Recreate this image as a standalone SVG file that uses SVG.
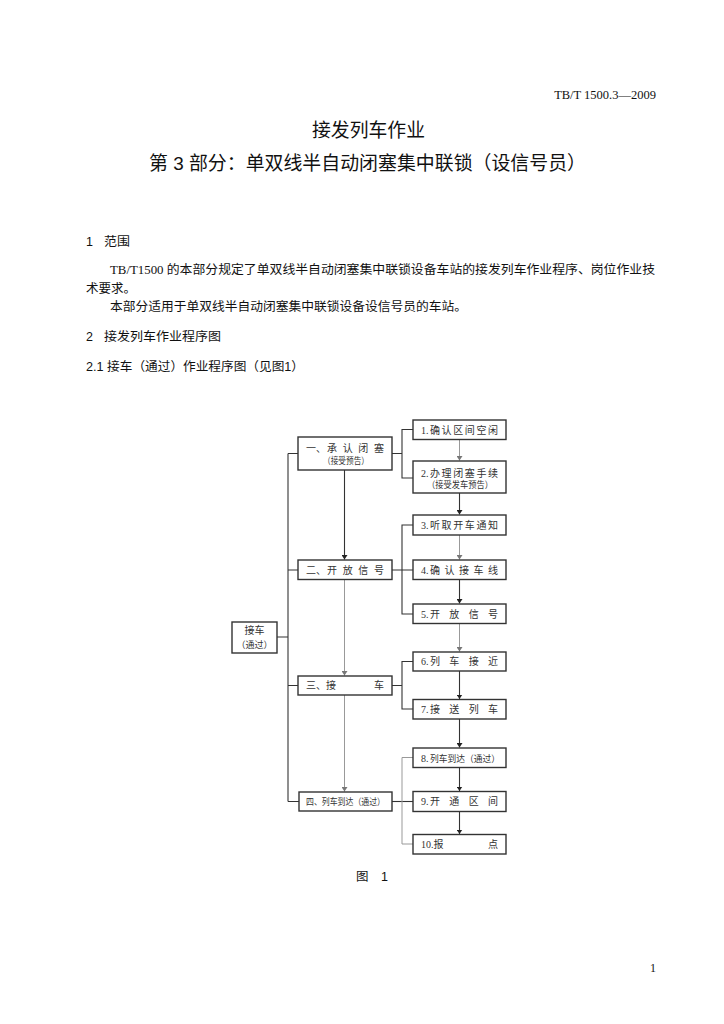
<svg xmlns="http://www.w3.org/2000/svg" width="724" height="1024" viewBox="0 0 724 1024">
<defs>
<marker id="ah" viewBox="0 0 6 8" refX="6" refY="4" markerWidth="4.5" markerHeight="6" orient="auto" markerUnits="userSpaceOnUse">
<path d="M0,0 L6,4 L0,8 Z" fill="#222"/>
</marker>
<marker id="ahg" viewBox="0 0 6 8" refX="6" refY="4" markerWidth="4.5" markerHeight="6" orient="auto" markerUnits="userSpaceOnUse">
<path d="M0,0 L6,4 L0,8 Z" fill="#777"/>
</marker>
</defs>
<style>
.bg{fill:#fff}
.serif{font-family:"Liberation Serif","Noto Sans CJK SC",serif;fill:#111}
.body{font-family:"Liberation Serif","Noto Sans CJK SC",serif;font-size:12.5px;fill:#111}
.head{font-family:"Liberation Sans","Noto Sans CJK SC",sans-serif;font-size:12.5px;fill:#111}
.title{font-family:"Liberation Sans","Noto Sans CJK SC",sans-serif;font-size:19px;fill:#111}
.box{fill:#fff;stroke:#333;stroke-width:1.4}
.bt{font-family:"Liberation Serif","Noto Sans CJK SC",serif;font-size:10px;fill:#333}
.bs{font-family:"Liberation Serif","Noto Sans CJK SC",serif;font-size:9px;fill:#333}
.c{fill:none;stroke:#333;stroke-width:1.1}
.g{fill:none;stroke:#999;stroke-width:1}
</style>
<rect class="bg" x="0" y="0" width="724" height="1024"/>

<g id="page-text">
<text class="serif" x="656" y="99" font-size="12.5" text-anchor="end">TB/T 1500.3—2009</text>
<text class="title" x="312" y="137" textLength="113" lengthAdjust="spacingAndGlyphs">接发列车作业</text>
<text class="title" x="149" y="170" textLength="437" lengthAdjust="spacingAndGlyphs">第 3 部分：单双线半自动闭塞集中联锁（设信号员）</text>
<text class="head" x="86" y="246">1</text>
<text class="head" x="104" y="246" textLength="26" lengthAdjust="spacingAndGlyphs">范围</text>
<text class="body" x="110" y="274" textLength="545" lengthAdjust="spacingAndGlyphs">TB/T1500 的本部分规定了单双线半自动闭塞集中联锁设备车站的接发列车作业程序、岗位作业技</text>
<text class="body" x="86" y="293" textLength="50" lengthAdjust="spacingAndGlyphs">术要求。</text>
<text class="body" x="110" y="311" textLength="357" lengthAdjust="spacingAndGlyphs">本部分适用于单双线半自动闭塞集中联锁设备设信号员的车站。</text>
<text class="head" x="86" y="341">2</text>
<text class="head" x="104" y="341" textLength="117" lengthAdjust="spacingAndGlyphs">接发列车作业程序图</text>
<text class="head" x="86" y="371" textLength="218" lengthAdjust="spacingAndGlyphs">2.1 接车（通过）作业程序图（见图1）</text>
<text class="head" x="356" y="881" font-size="11.5">图</text>
<text class="head" x="381" y="881" font-size="11.5">1</text>
<text class="serif" x="656" y="972" font-size="12" text-anchor="end">1</text>
</g>

<g id="connectors">
<path class="c" d="M288,453.5 V801.5"/>
<path class="c" d="M288,453.5 H298 M288,570 H298 M288,685.5 H298 M288,801.5 H299 M277,637 H288"/>
<path class="c" d="M344.5,470 V559.5" marker-end="url(#ah)"/>
<path class="g" d="M344.5,579.5 V675.5" marker-end="url(#ahg)"/>
<path class="g" d="M344.5,695 V791.5" marker-end="url(#ahg)"/>
<path class="c" d="M392,453.5 H402 M413,429.5 H402 V478 H413"/>
<path class="c" d="M392,570 H413 M413,525 H402 V614 H413"/>
<path class="c" d="M392,685.5 H402 M413,661.5 H402 V709 H413"/>
<path class="c" d="M392,801.5 H413"/>
<path class="g" d="M413,757.5 H402 V844 H413"/>
<path class="g" d="M459.5,439.5 V460.5" marker-end="url(#ahg)"/>
<path class="c" d="M459.5,493 V514.5" marker-end="url(#ah)"/>
<path class="g" d="M459.5,535 V559.5" marker-end="url(#ahg)"/>
<path class="c" d="M459.5,579.5 V603.5" marker-end="url(#ah)"/>
<path class="g" d="M459.5,623.5 V651.5" marker-end="url(#ahg)"/>
<path class="c" d="M459.5,671 V699" marker-end="url(#ah)"/>
<path class="c" d="M459.5,719 V747.5" marker-end="url(#ah)"/>
<path class="c" d="M459.5,767.5 V791" marker-end="url(#ah)"/>
<path class="c" d="M459.5,811.5 V834" marker-end="url(#ah)"/>
</g>

<g id="n-root">
<rect class="box" x="232" y="622" width="45" height="31"/>
<text class="bt" x="254.5" y="634" text-anchor="middle">接车</text>
<text class="bs" x="254.5" y="648" text-anchor="middle">（通过）</text>
</g>

<g id="n-1">
<rect class="box" x="298" y="437" width="94" height="33"/>
<text class="bt" x="306" y="452">一、</text>
<text class="bt" x="327" y="452" textLength="57" lengthAdjust="spacing">承认闭塞</text>
<text class="bs" x="323" y="464" textLength="46" lengthAdjust="spacingAndGlyphs">（接受预告）</text>
</g>
<g id="n-2">
<rect class="box" x="298" y="560" width="94" height="19.5"/>
<text class="bt" x="306" y="573.5">二、</text>
<text class="bt" x="327" y="573.5" textLength="57" lengthAdjust="spacing">开放信号</text>
</g>
<g id="n-3">
<rect class="box" x="298" y="676" width="94" height="19"/>
<text class="bt" x="306" y="689">三、接</text>
<text class="bt" x="384" y="689" text-anchor="end">车</text>
</g>
<g id="n-4">
<rect class="box" x="299" y="792" width="93" height="19"/>
<text class="bs" x="306" y="805" textLength="79" lengthAdjust="spacingAndGlyphs">四、列车到达（通过）</text>
</g>

<g id="s-1">
<rect class="box" x="413" y="420" width="93" height="19.5"/>
<text class="bt" x="421" y="433.5">1.</text>
<text class="bt" x="430" y="433.5" textLength="68" lengthAdjust="spacing">确认区间空闲</text>
</g>
<g id="s-2">
<rect class="box" x="413" y="461" width="93" height="32"/>
<text class="bt" x="421" y="477">2.</text>
<text class="bt" x="430" y="477" textLength="68" lengthAdjust="spacing">办理闭塞手续</text>
<text class="bs" x="427" y="488" textLength="66" lengthAdjust="spacingAndGlyphs">（接受发车预告）</text>
</g>
<g id="s-3">
<rect class="box" x="413" y="515" width="93" height="20"/>
<text class="bt" x="421" y="528.5">3.</text>
<text class="bt" x="430" y="528.5" textLength="68" lengthAdjust="spacing">听取开车通知</text>
</g>
<g id="s-4">
<rect class="box" x="413" y="560" width="93" height="19.5"/>
<text class="bt" x="421" y="573.5">4.</text>
<text class="bt" x="430" y="573.5" textLength="68" lengthAdjust="spacing">确认接车线</text>
</g>
<g id="s-5">
<rect class="box" x="413" y="604" width="93" height="19.5"/>
<text class="bt" x="421" y="617.5">5.</text>
<text class="bt" x="430" y="617.5" textLength="68" lengthAdjust="spacing">开放信号</text>
</g>
<g id="s-6">
<rect class="box" x="413" y="652" width="93" height="19"/>
<text class="bt" x="421" y="665">6.</text>
<text class="bt" x="430" y="665" textLength="68" lengthAdjust="spacing">列车接近</text>
</g>
<g id="s-7">
<rect class="box" x="413" y="699.5" width="93" height="19.5"/>
<text class="bt" x="421" y="713">7.</text>
<text class="bt" x="430" y="713" textLength="68" lengthAdjust="spacing">接送列车</text>
</g>
<g id="s-8">
<rect class="box" x="413" y="748" width="93" height="19.5"/>
<text class="bt" x="421" y="761.5">8.</text>
<text class="bs" x="430" y="761.5" textLength="70" lengthAdjust="spacingAndGlyphs">列车到达（通过）</text>
</g>
<g id="s-9">
<rect class="box" x="413" y="791.5" width="93" height="20"/>
<text class="bt" x="421" y="805">9.</text>
<text class="bt" x="430" y="805" textLength="68" lengthAdjust="spacing">开通区间</text>
</g>
<g id="s-10">
<rect class="box" x="413" y="834.5" width="93" height="19.5"/>
<text class="bt" x="421" y="848">10.报</text>
<text class="bt" x="498" y="848" text-anchor="end">点</text>
</g>
</svg>
